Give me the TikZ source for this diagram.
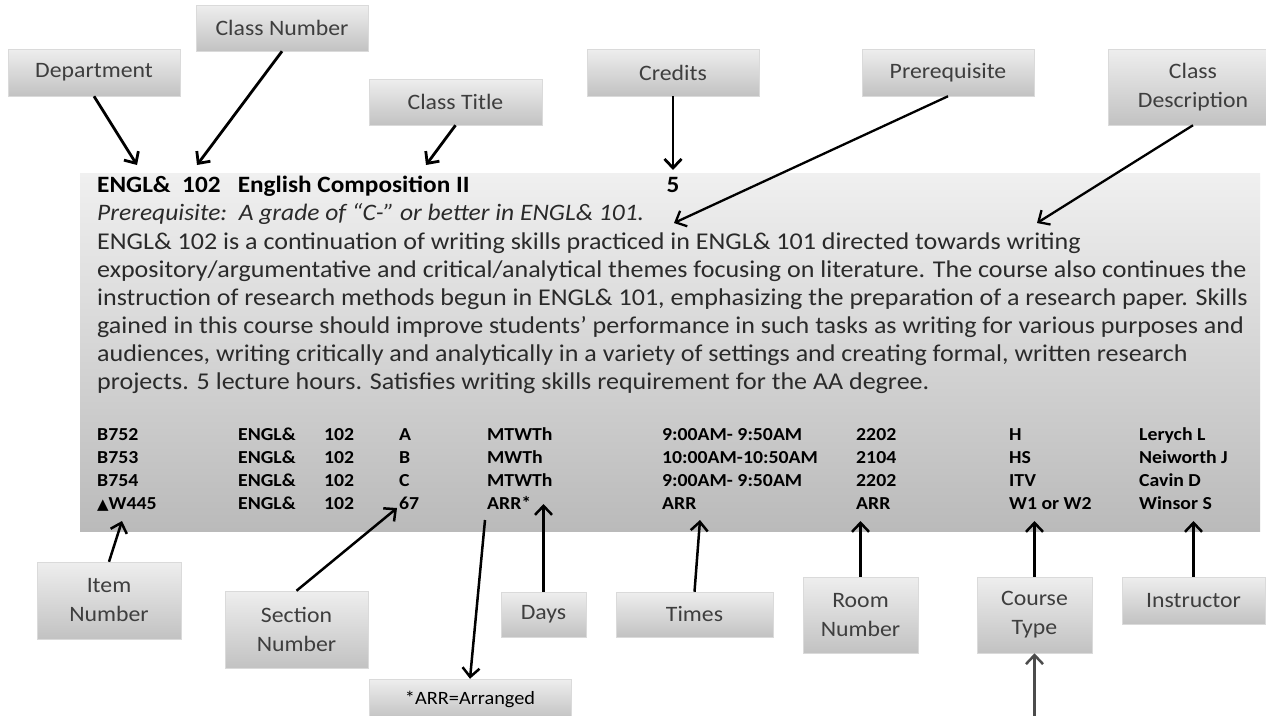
\documentclass[tikz,border=0pt]{standalone}
\usepackage{fontspec}
\setmainfont{Carlito}[FakeStretch=1.08]
\newfontfamily\symfont{DejaVu Sans}
\usetikzlibrary{arrows.meta,positioning}
\definecolor{boxtop}{RGB}{238,238,238}
\definecolor{boxbot}{RGB}{194,194,194}
\definecolor{boxedge}{RGB}{218,218,218}
\definecolor{paneltop}{RGB}{240,240,240}
\definecolor{panelbot}{RGB}{186,186,186}
\definecolor{lbltext}{RGB}{62,62,62}
\definecolor{bodytext}{RGB}{42,42,42}

\begin{document}
\begin{tikzpicture}[x=1pt,y=-1pt,
  lbl/.style={draw=boxedge, line width=0.5pt, top color=boxtop, bottom color=boxbot,
    text=lbltext, align=center, inner sep=0pt, font=\fontsize{22}{29}\selectfont},
  ptr/.style={line width=2.8pt, -{Straight Barb[length=9pt,width=17pt]}},
  cell/.style={anchor=base west, inner sep=0pt, font=\fontsize{18.3}{22}\selectfont\bfseries},
  para/.style={anchor=base west, inner sep=0pt, text=bodytext, font=\fontsize{24.1}{28}\selectfont}]
        \useasboundingbox (0,0) rectangle (1266,715);
        \fill[white] (0,0) rectangle (1266,715);

        %Shape: catalogue entry panel
        \node[draw=none, top color=paneltop, bottom color=panelbot, minimum width=1180pt, minimum height=358pt, inner sep=0pt] (panel) at (670,352) {};

        % Text Node: heading
        \node[para, text=black, font=\fontsize{23.4}{28}\selectfont\bfseries] (heading) at (97,192) {ENGL\&\ \ 102\ \ \ English Composition II};
        \node[anchor=base, inner sep=0pt, font=\fontsize{23.4}{28}\selectfont\bfseries] (credval) at (673,192) {5};
        % Text Node: prerequisite
        \node[para, font=\fontsize{23.6}{28}\selectfont\itshape] (prqline) at (97,220) {Prerequisite:\ \ A grade of “C-” or better in ENGL\& 101.};
        % Text Node: description
        \node[para] (dline1) at (97,249) {ENGL\& 102 is a continuation of writing skills practiced in ENGL\& 101 directed towards writing};
        \node[para] (dline2) at (97,277) {expository/argumentative and critical/analytical themes focusing on literature. The course also continues the};
        \node[para] (dline3) at (97,305) {instruction of research methods begun in ENGL\& 101, emphasizing the preparation of a research paper. Skills};
        \node[para] (dline4) at (97,333) {gained in this course should improve students’ performance in such tasks as writing for various purposes and};
        \node[para] (dline5) at (97,361) {audiences, writing critically and analytically in a variety of settings and creating formal, written research};
        \node[para] (dline6) at (97,389) {projects. 5 lecture hours. Satisfies writing skills requirement for the AA degree.};

        % Text Node: sections table
        \foreach \cx/\ct [count=\c] in {97/B752, 238/ENGL\&, 324/102, 399/A, 487/MTWTh, 662/9:00AM- 9:50AM, 856/2202, 1009/H, 1139/Lerych L}
          \node[cell] (rowa\c) at (\cx,440) {\ct};
        \foreach \cx/\ct [count=\c] in {97/B753, 238/ENGL\&, 324/102, 399/B, 487/MWTh, 662/10:00AM-10:50AM, 856/2104, 1009/HS, 1139/Neiworth J}
          \node[cell] (rowb\c) at (\cx,463) {\ct};
        \foreach \cx/\ct [count=\c] in {97/B754, 238/ENGL\&, 324/102, 399/C, 487/MTWTh, 662/9:00AM- 9:50AM, 856/2202, 1009/ITV, 1139/Cavin D}
          \node[cell] (rowc\c) at (\cx,486) {\ct};
        \foreach \cx/\ct [count=\c] in {97/{{\symfont\fontsize{15}{18}\selectfont ▲}W445}, 238/ENGL\&, 324/102, 399/67, 487/ARR*, 662/ARR, 856/ARR, 1009/W1 or W2, 1139/Winsor S}
          \node[cell] (rowd\c) at (\cx,509) {\ct};

        %Shape: labels above
        \node[lbl, minimum width=172pt, minimum height=47pt] (dept) at (94,72.5) {Department};
        \node[lbl, minimum width=172pt, minimum height=46pt] (clsnum) at (282,28) {Class Number};
        \node[lbl, minimum width=173pt, minimum height=46pt] (clstitle) at (455.5,102) {Class Title};
        \node[lbl, minimum width=172pt, minimum height=47pt] (credits) at (673,72.5) {Credits};
        \node[lbl, minimum width=172pt, minimum height=47pt] (prereq) at (948,72.5) {Prerequisite};
        \node[lbl, minimum width=170pt, minimum height=76pt] (clsdesc) at (1193,87) {Class\\Description};

        %Shape: labels below
        \node[lbl, minimum width=144pt, minimum height=77pt] (itemnum) at (109,600.5) {Item\\Number};
        \node[lbl, minimum width=143pt, minimum height=77pt] (secnum) at (296.5,629.5) {Section\\Number};
        \node[lbl, minimum width=85pt, minimum height=45pt] (days) at (543.5,614.5) {Days};
        \node[lbl, minimum width=157pt, minimum height=45pt] (times) at (694.5,614.5) {Times};
        \node[lbl, minimum width=115pt, minimum height=76pt] (roomnum) at (860.5,615) {Room\\Number};
        \node[lbl, minimum width=115pt, minimum height=76pt] (crstype) at (1034.5,615) {Course\\Type};
        \node[lbl, minimum width=143pt, minimum height=47pt] (instr) at (1193.5,600.5) {Instructor};
        \node[lbl, minimum width=202pt, minimum height=40pt, text=black, font=\fontsize{18.8}{22}\selectfont] (arranged) at (470,699) {*ARR=Arranged};

        % arrow ends
        \coordinate (deptpt) at (137,165);
        \coordinate (numpt) at (197,165);
        \coordinate (titlept) at (426,165);
        \coordinate (credpt) at (673,170);
        \coordinate (prqpt) at (674,223);
        \coordinate (descpt) at (1037,223);
        \coordinate (itempt) at (122,521);
        \coordinate (secpt) at (397,508);
        \coordinate (arrfrom) at (485,520);
        \coordinate (dayspt) at (543.5,504);
        \coordinate (timespt) at (700,520);
        \coordinate (roompt) at (860.5,521);
        \coordinate (typept) at (1034.5,521);
        \coordinate (instrpt) at (1193.5,521);
        \coordinate (typefrom) at (1034.5,730);

        \draw[ptr] (dept.south) -- (deptpt);
        \draw[ptr] (clsnum.south) -- (numpt);
        \draw[ptr] (clstitle.south) -- (titlept);
        \draw[ptr] (credits.south) -- (credpt);
        \draw[ptr, line width=2.3pt] (prereq.south) -- (prqpt);
        \draw[ptr, line width=2.3pt] (clsdesc.south) -- (descpt);

        \draw[ptr, line width=2.5pt] (itemnum.north) -- (itempt);
        \draw[ptr, line width=2.5pt] (secnum.north) -- (secpt);
        \draw[ptr, line width=2.5pt] (arrfrom) -- (arranged.north);
        \draw[ptr, line width=2.5pt] (days.north) -- (dayspt);
        \draw[ptr, line width=2.5pt] (times.north) -- (timespt);
        \draw[ptr, line width=2.5pt] (roomnum.north) -- (roompt);
        \draw[ptr, line width=2.5pt] (crstype.north) -- (typept);
        \draw[ptr, line width=2.5pt] (instr.north) -- (instrpt);
        \draw[ptr, line width=2.5pt, draw=black!70] (typefrom) -- (crstype.south);

\end{tikzpicture}
\end{document}
